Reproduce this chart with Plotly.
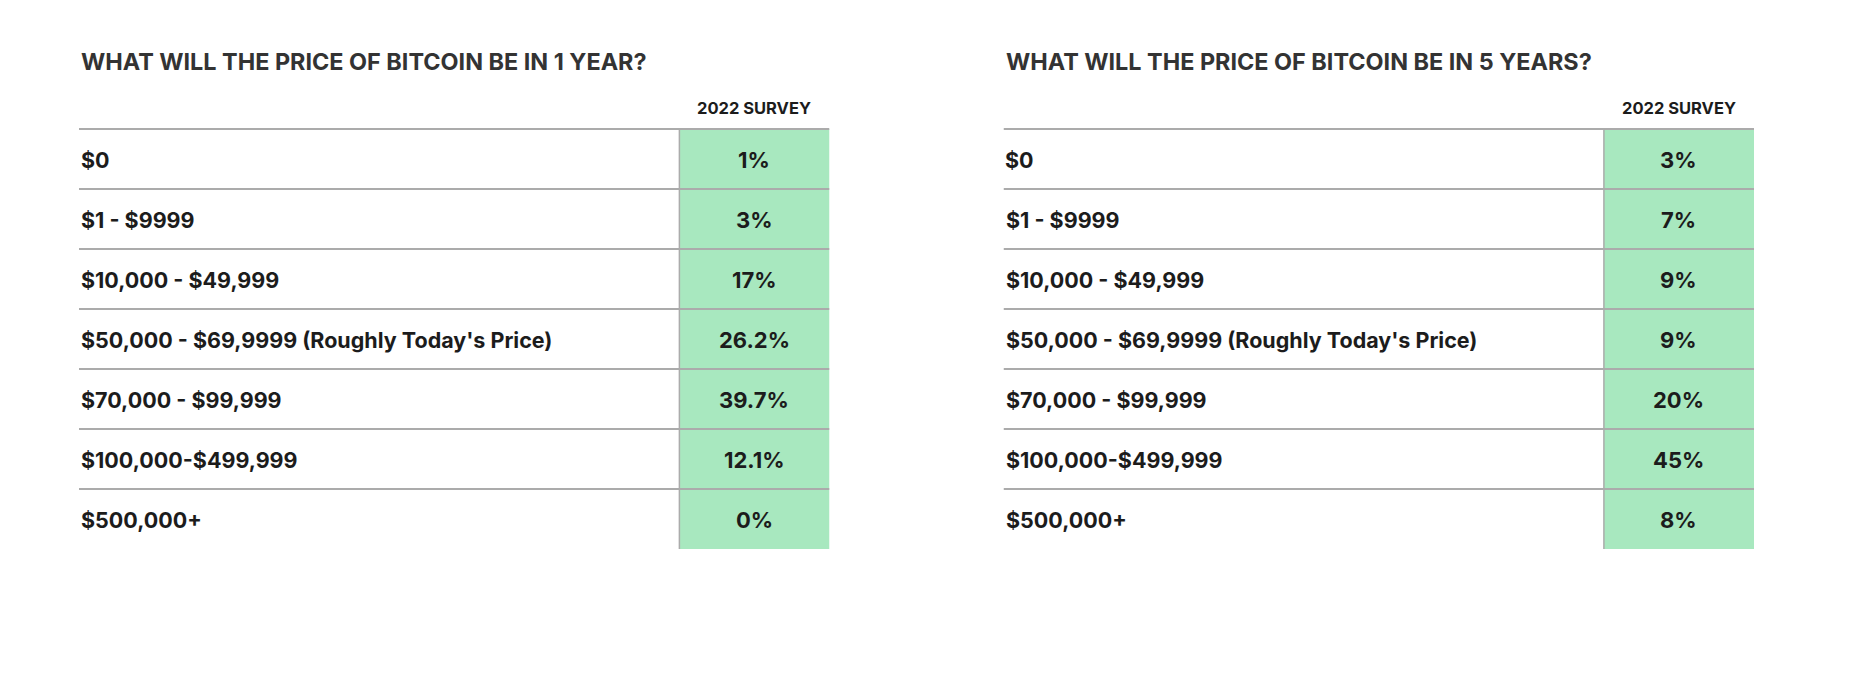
import plotly.graph_objects as go
from plotly.subplots import make_subplots

# survey answers, one row per price bucket
price_ranges = [
    "$0",
    "$1 - $9999",
    "$10,000 - $49,999",
    "$50,000 - $69,9999 (Roughly Today's Price)",
    "$70,000 - $99,999",
    "$100,000-$499,999",
    "$500,000+",
]
one_year_pct = [1, 3, 17, 26.2, 39.7, 12.1, 0]
five_year_pct = [3, 7, 9, 9, 20, 45, 8]

titles = [
    "WHAT WILL THE PRICE OF BITCOIN BE IN 1 YEAR?",
    "WHAT WILL THE PRICE OF BITCOIN BE IN 5 YEARS?",
]
column_header = "2022 SURVEY"

W, H = 1860, 686
OFF = 8  # the page body adds an 8px margin
ROW_H = 60
TOP_LINE = 129 - OFF
GREEN = "#a8e8bf"
LINE = "#ababab"
INK = "#1c1c1c"
FONT = "Inter"

fig = make_subplots(rows=1, cols=2)

n = len(price_ranges)
rows = list(range(n))
# y axis: row index, reversed, spanning the whole page height
y_top = (0 - (TOP_LINE + ROW_H / 2)) / ROW_H
y_bot = (H - (TOP_LINE + ROW_H / 2)) / ROW_H


def px_to_row(p):
    return (p - OFF - TOP_LINE - ROW_H / 2) / ROW_H


panels = [(one_year_pct, 79 - OFF, 1), (five_year_pct, 1003.5 - OFF, 2)]
for (vals, left_px, col), title in zip(panels, titles):
    xa = "x" if col == 1 else "x2"
    ya = "y" if col == 1 else "y2"

    # green value column
    fig.add_trace(go.Bar(
        y=rows, x=[0.2] * n, base=0.8, orientation="h", width=1,
        marker=dict(color=GREEN, line=dict(width=0)),
        hoverinfo="skip", showlegend=False,
    ), row=1, col=col)

    # row labels and values
    for i, (lab, v) in enumerate(zip(price_ranges, vals)):
        fig.add_annotation(
            x=0, y=i + 0.02, xref=xa, yref=ya, text=lab, showarrow=False,
            xanchor="left", yanchor="middle",
            font=dict(family=FONT, size=21.5, color=INK, weight=700),
        )
        fig.add_annotation(
            x=0.9, y=i + 0.02, xref=xa, yref=ya, text=f"{v:g}%", showarrow=False,
            xanchor="center", yanchor="middle",
            font=dict(family=FONT, size=22, color=INK, weight=700),
        )

    # horizontal rules: top edge and between rows
    for i in range(n):
        fig.add_shape(type="line", xref=xa, yref=ya, x0=0, x1=1,
                      y0=i - 0.5, y1=i - 0.5,
                      line=dict(color=LINE, width=2))
    # rule at the left of the value column
    fig.add_shape(type="line", xref=xa, yref=ya, x0=0.8, x1=0.8,
                  y0=-0.5, y1=n - 0.5, line=dict(color=LINE, width=1.5))

    # title and column header
    fig.add_annotation(
        x=0, y=px_to_row(61.5), xref=xa, yref=ya,
        text=title, showarrow=False, xanchor="left", yanchor="middle",
        font=dict(family=FONT, size=23.4, color="#333333", weight=700),
    )
    fig.add_annotation(
        x=0.9, y=px_to_row(107.5), xref=xa, yref=ya,
        text=column_header, showarrow=False, xanchor="center", yanchor="middle",
        font=dict(family=FONT, size=16.5, color=INK, weight=700),
    )

    fig.update_xaxes(range=[0, 1], domain=[left_px / W, (left_px + 750.5) / W],
                     visible=False, fixedrange=True, row=1, col=col)
    fig.update_yaxes(range=[y_bot, y_top], domain=[0, 1],
                     visible=False, fixedrange=True, row=1, col=col)

fig.update_layout(
    width=W, height=H,
    margin=dict(l=0, r=0, t=0, b=0),
    paper_bgcolor="white", plot_bgcolor="white",
    barmode="overlay",
    showlegend=False,
)

fig.write_html("out.html")
